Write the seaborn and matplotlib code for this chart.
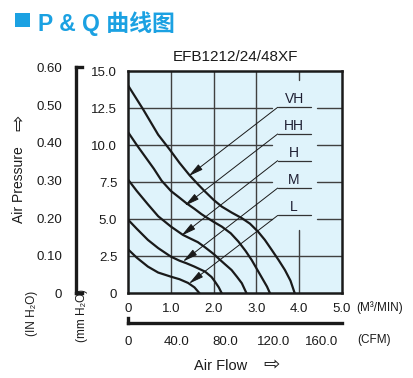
import numpy as np
import pandas as pd
import matplotlib
matplotlib.use("Agg")
import matplotlib.pyplot as plt
import seaborn as sns
from matplotlib.patches import Rectangle

# ---------------- data ----------------
speeds = ["VH", "HH", "H", "M", "L"]

flow_vh = [0.00, 0.35, 0.70, 0.97, 1.20, 1.44, 1.65, 1.80, 2.00, 2.19, 2.42, 2.66, 2.85, 3.04, 3.20, 3.36, 3.52, 3.67, 3.80, 3.90]
pres_vh = [14.0, 12.4, 10.7, 9.7, 8.8, 7.95, 7.3, 6.86, 6.3, 5.85, 5.45, 5.07, 4.7, 4.16, 3.6, 2.93, 2.25, 1.57, 0.85, 0.0]

flow_hh = [0.00, 0.20, 0.40, 0.60, 0.78, 1.00, 1.20, 1.36, 1.55, 1.71, 1.80, 2.00, 2.19, 2.40, 2.58, 2.75, 2.89, 3.03, 3.16, 3.25, 3.32]
pres_hh = [10.85, 10.0, 9.2, 8.4, 7.6, 6.9, 6.45, 6.08, 5.7, 5.35, 5.18, 4.82, 4.5, 4.05, 3.49, 2.85, 2.25, 1.55, 0.9, 0.45, 0.0]

flow_h = [0.00, 0.20, 0.46, 0.70, 1.00, 1.28, 1.45, 1.63, 1.80, 2.00, 2.11, 2.25, 2.42, 2.55, 2.66, 2.77]
pres_h = [7.65, 6.9, 6.0, 5.2, 4.5, 3.94, 3.7, 3.45, 3.1, 2.65, 2.36, 2.0, 1.57, 1.1, 0.68, 0.0]

flow_m = [0.00, 0.20, 0.46, 0.70, 1.00, 1.20, 1.36, 1.55, 1.80, 1.95, 2.03, 2.12, 2.19]
pres_m = [4.95, 4.35, 3.6, 3.05, 2.47, 2.2, 2.03, 1.8, 1.46, 1.1, 0.79, 0.4, 0.0]

flow_l = [0.00, 0.20, 0.46, 0.70, 1.00, 1.20, 1.40, 1.55, 1.67]
pres_l = [2.95, 2.4, 1.8, 1.4, 1.12, 0.95, 0.7, 0.4, 0.0]

# label leader lines: label level and arrow tip on each curve
label_level = [12.55, 10.75, 8.95, 7.1, 5.25]
tip_flow = [1.41, 1.32, 1.24, 1.28, 1.42]
tip_pres = [7.9, 5.9, 3.88, 2.14, 0.65]

x_ticks = [0, 1, 2, 3, 4, 5]
x_labels = ["0", "1.0", "2.0", "3.0", "4.0", "5.0"]
y_ticks = [0, 2.5, 5, 7.5, 10, 12.5, 15]
y_labels = ["0", "2.5", "5.0", "7.5", "10.0", "12.5", "15.0"]
in_ticks = [0, 0.1, 0.2, 0.3, 0.4, 0.5, 0.6]
in_labels = ["0", "0.10", "0.20", "0.30", "0.40", "0.50", "0.60"]
cfm_ticks = [0, 40, 80, 120, 160]
cfm_labels = ["0", "40.0", "80.0", "120.0", "160.0"]

# ---------------- build table ----------------
frames = []
for s, fx_, py_ in zip(speeds,
                       [flow_vh, flow_hh, flow_h, flow_m, flow_l],
                       [pres_vh, pres_hh, pres_h, pres_m, pres_l]):
    frames.append(pd.DataFrame({"speed": s, "flow": fx_, "pressure": py_}))
df = pd.concat(frames, ignore_index=True)

# ---------------- style ----------------
sns.set_style("white")
plt.rcParams["font.family"] = ["Liberation Sans", "DejaVu Sans", "Noto Sans CJK SC"]

W, H = 413, 378
fig = plt.figure(figsize=(W / 100, H / 100), dpi=100)
fig.patch.set_facecolor("white")

def fxp(px):
    return px / W

def fyp(py):
    return 1 - py / H

INK = "#1a1a1a"
GRID = "#404040"
BLUE = "#1BA1E2"

L_PX, R_PX, T_PX, B_PX = 128.3, 341.7, 71.0, 293.3
ax = fig.add_axes([fxp(L_PX), fyp(B_PX), (R_PX - L_PX) / W, (B_PX - T_PX) / H])
ax.set_facecolor("#dff3fb")

# grid (broken around the label area)
glw = 1.0
for xv in [1, 2, 3]:
    ax.plot([xv, xv], [0, 15], color=GRID, lw=glw, zorder=1)
ax.plot([4, 4], [0, 4.28], color=GRID, lw=glw, zorder=1)
ax.plot([4, 4], [14.4, 15], color=GRID, lw=glw, zorder=1)
for yv in [5, 7.5, 10, 12.5]:
    ax.plot([0, 3.37], [yv, yv], color=GRID, lw=glw, zorder=1)
    ax.plot([4.42, 5], [yv, yv], color=GRID, lw=glw, zorder=1)
ax.plot([0, 5], [2.5, 2.5], color=GRID, lw=glw, zorder=1)

sns.lineplot(data=df, x="flow", y="pressure", hue="speed",
             palette={s: INK for s in speeds}, sort=False, estimator=None,
             legend=False, lw=1.6, ax=ax, zorder=3)

# labels with leader arrows
for s, ly, tx, ty in zip(speeds, label_level, tip_flow, tip_pres):
    ax.plot([3.5, 4.27], [ly, ly], color="#333333", lw=0.9, zorder=2)
    ax.annotate("", xy=(tx, ty), xytext=(3.5, ly),
                arrowprops=dict(arrowstyle="-|>,head_length=0.75,head_width=0.17",
                                color=INK, lw=0.7, shrinkA=0, shrinkB=0,
                                mutation_scale=12), zorder=4)
    ax.text(3.885, ly + 0.27, s, ha="center", va="baseline", fontsize=10,
            color="#1f1f33", zorder=5)

ax.set_xlim(0, 5)
ax.set_ylim(0, 15)
ax.set_xlabel("")
ax.set_ylabel("")
ax.set_xticks(x_ticks)
ax.set_xticklabels(x_labels)
ax.set_yticks(y_ticks)
ax.set_yticklabels(y_labels)
ax.tick_params(axis="x", length=0, pad=7, labelsize=9.5, colors=INK)
ax.tick_params(axis="y", length=0, pad=8, labelsize=9.5, colors=INK)
for sp in ax.spines.values():
    sp.set_visible(True)
    sp.set_linewidth(1.8)
    sp.set_color(INK)
    sp.set_zorder(6)

# inch H2O bracket axis (0.6 in = 15.24 mm)
in_h = 0.6 * 25.4 * (B_PX - T_PX) / 15.0
ax2 = fig.add_axes([fxp(76), fyp(B_PX), 5.5 / W, in_h / H])
ax2.set_facecolor("none")
ax2.set_ylim(0, 0.6)
ax2.set_xlim(0, 1)
ax2.set_xticks([])
ax2.set_yticks(in_ticks)
ax2.set_yticklabels(in_labels)
ax2.tick_params(axis="y", direction="in", length=4, width=1.4, pad=10,
                labelsize=9.5, colors=INK)
for k in ["left", "top", "bottom"]:
    ax2.spines[k].set_visible(True)
    ax2.spines[k].set_linewidth(2.4)
    ax2.spines[k].set_color(INK)
ax2.spines["right"].set_visible(False)

# CFM bracket axis (5 m3/min = 176.57 CFM)
ax3 = fig.add_axes([fxp(L_PX), fyp(323.3), (R_PX - L_PX) / W, 5.5 / H])
ax3.set_facecolor("none")
ax3.set_xlim(0, 5 * 35.3147)
ax3.set_ylim(0, 1)
ax3.set_yticks([])
ax3.set_xticks(cfm_ticks)
ax3.set_xticklabels(cfm_labels)
ax3.tick_params(axis="x", direction="in", length=4, width=1.4, pad=9,
                labelsize=9.5, colors=INK)
for k in ["left", "bottom"]:
    ax3.spines[k].set_visible(True)
    ax3.spines[k].set_linewidth(2.4)
    ax3.spines[k].set_color(INK)
for k in ["top", "right"]:
    ax3.spines[k].set_visible(False)

# texts
fig.text(fxp(235), fyp(57), "EFB1212/24/48XF", ha="center", va="center",
         fontsize=11, color=INK)
fig.text(fxp(356), fyp(308), "(M³/MIN)", ha="left", va="center",
         fontsize=8.5, color=INK)
fig.text(fxp(357), fyp(340), "(CFM)", ha="left", va="center",
         fontsize=8.5, color=INK)
fig.text(fxp(221), fyp(366), "Air Flow", ha="center", va="center",
         fontsize=10.5, color=INK)
fig.text(fxp(272), fyp(365), "⇨", ha="center", va="center",
         fontsize=14, color=INK, family=["DejaVu Sans"])
fig.text(fxp(19), fyp(185), "Air Pressure", ha="center", va="center",
         rotation=90, fontsize=10, color=INK)
fig.text(fxp(19), fyp(123), "⇨", ha="center", va="center",
         rotation=90, fontsize=14, color=INK, family=["DejaVu Sans"])
fig.text(fxp(32), fyp(313), "(IN H₂O)", ha="center", va="center",
         rotation=90, fontsize=8.5, color=INK)
fig.text(fxp(82), fyp(315), "(mm H₂O)", ha="center", va="center",
         rotation=90, fontsize=8.5, color=INK)

# header
fig.patches.append(Rectangle((fxp(15), fyp(27)), 15 / W, 14 / H,
                             transform=fig.transFigure, color=BLUE, lw=0))
fig.text(fxp(38), fyp(23.5), "P & Q 曲线图", ha="left", va="center",
         fontsize=16.5, fontweight="bold", color=BLUE,
         family=["Liberation Sans", "Noto Sans CJK SC"])

fig.savefig("out.png", dpi=100)
